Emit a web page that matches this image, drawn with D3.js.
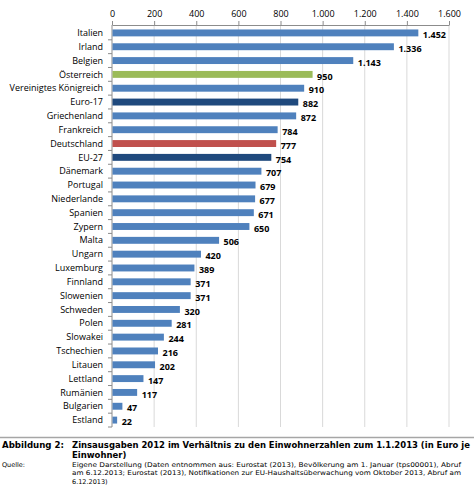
<!DOCTYPE html>
<html>
<head>
<meta charset="utf-8">
<script src="https://cdn.jsdelivr.net/npm/d3@7"></script>
<style>
  body { margin: 0; background: #fff; }
  svg { display: block; }
</style>
</head>
<body>
<div class="chart"></div>
<script>
// data
var countries = ["Italien", "Irland", "Belgien", "Österreich", "Vereinigtes Königreich", "Euro-17",
  "Griechenland", "Frankreich", "Deutschland", "EU-27", "Dänemark", "Portugal", "Niederlande",
  "Spanien", "Zypern", "Malta", "Ungarn", "Luxemburg", "Finnland", "Slowenien", "Schweden",
  "Polen", "Slowakei", "Tschechien", "Litauen", "Lettland", "Rumänien", "Bulgarien", "Estland"];
var values = [1452, 1336, 1143, 950, 910, 882, 872, 784, 777, 754, 707, 679, 677, 671, 650,
  506, 420, 389, 371, 371, 320, 281, 244, 216, 202, 147, 117, 47, 22];
var xTicks = [0, 200, 400, 600, 800, 1000, 1200, 1400, 1600];
var highlight = { "Österreich": "#9bbb59", "Deutschland": "#c0504d", "Euro-17": "#1f497d", "EU-27": "#1f497d" };

var W = 474, H = 488;
var de = d3.formatLocale({ decimal: ",", thousands: ".", grouping: [3], currency: ["", " €"] });
var fmt = de.format(",d");

var svg = d3.select(".chart").append("svg")
  .attr("width", W)
  .attr("height", H);

var x = d3.scaleLinear().domain([0, 1600]).range([112, 449]);
var y = d3.scaleBand().domain(countries).range([26, 427]).paddingInner(0.5).paddingOuter(0.25);

// gridlines
svg.append("g").selectAll("line")
  .data(xTicks.slice(1))
  .enter().append("line")
  .attr("x1", function(d){ return x(d); })
  .attr("x2", function(d){ return x(d); })
  .attr("y1", 25)
  .attr("y2", 427)
  .attr("stroke", "#d9d9d9")
  .attr("stroke-width", 1);

// top axis
var xAxis = d3.axisTop(x)
  .tickValues(xTicks)
  .tickFormat(fmt)
  .tickSize(4)
  .tickSizeOuter(0);

var gx = svg.append("g")
  .attr("transform", "translate(0,25)")
  .call(xAxis);
gx.select(".domain").attr("stroke", "#8c8c8c");
gx.selectAll(".tick line").attr("stroke", "#8c8c8c");
gx.selectAll("text")
  .attr("font-family", "'Open Sans', sans-serif")
  .attr("font-size", 9)
  .attr("fill", "#000")
  .attr("y", -8);

// left axis with category ticks between bars
svg.append("line")
  .attr("x1", 112).attr("x2", 112)
  .attr("y1", 25).attr("y2", 427)
  .attr("stroke", "#8c8c8c");

var step = y.step();
svg.append("g").selectAll("line")
  .data(countries)
  .enter().append("line")
  .attr("x1", 108).attr("x2", 112)
  .attr("y1", function(d){ return y(d) + y.bandwidth() / 2 + step / 2; })
  .attr("y2", function(d){ return y(d) + y.bandwidth() / 2 + step / 2; })
  .attr("stroke", "#8c8c8c");

svg.append("g").selectAll("text")
  .data(countries)
  .enter().append("text")
  .attr("x", 103)
  .attr("y", function(d){ return y(d) + y.bandwidth() / 2; })
  .attr("dy", ".35em")
  .attr("text-anchor", "end")
  .attr("font-family", "'Open Sans', sans-serif")
  .attr("font-size", 9)
  .text(function(d){ return d; });

// bars
svg.append("g").selectAll("rect")
  .data(countries)
  .enter().append("rect")
  .attr("x", x(0) + 0.5)
  .attr("y", function(d){ return y(d); })
  .attr("width", function(d, i){ return x(values[i]) - x(0); })
  .attr("height", y.bandwidth())
  .attr("fill", function(d){ return highlight[d] || "#4f81bd"; });

svg.append("g").selectAll("text")
  .data(countries)
  .enter().append("text")
  .attr("x", function(d, i){ return x(values[i]) + 5; })
  .attr("y", function(d){ return y(d) + y.bandwidth() / 2 + 2; })
  .attr("dy", ".35em")
  .attr("font-family", "'Open Sans', sans-serif")
  .attr("font-size", 9)
  .attr("font-weight", "bold")
  .text(function(d, i){ return fmt(values[i]); });

// footer
svg.append("line")
  .attr("x1", 0).attr("x2", W)
  .attr("y1", 437.5).attr("y2", 437.5)
  .attr("stroke", "#a6a6a6")
  .attr("stroke-width", 1.5);

var foot = svg.append("g")
  .attr("font-family", "'DejaVu Sans', Verdana, sans-serif");

foot.append("text")
  .attr("x", 2).attr("y", 448)
  .attr("font-size", 8.5).attr("font-weight", "bold")
  .attr("textLength", 62).attr("lengthAdjust", "spacingAndGlyphs")
  .text("Abbildung 2:");
foot.append("text")
  .attr("x", 72).attr("y", 448)
  .attr("font-size", 8.5).attr("font-weight", "bold")
  .attr("textLength", 398).attr("lengthAdjust", "spacingAndGlyphs")
  .text("Zinsausgaben 2012 im Verhältnis zu den Einwohnerzahlen zum 1.1.2013 (in Euro je");
foot.append("text")
  .attr("x", 72).attr("y", 458)
  .attr("font-size", 8.5).attr("font-weight", "bold")
  .text("Einwohner)");

foot.append("text")
  .attr("x", 2).attr("y", 467)
  .attr("font-size", 6.5)
  .text("Quelle:");

var src = ["Eigene Darstellung (Daten entnommen aus: Eurostat (2013), Bevölkerung am 1. Januar (tps00001), Abruf",
  "am 6.12.2013;  Eurostat (2013), Notifikationen zur EU-Haushaltsüberwachung vom Oktober 2013, Abruf am",
  "6.12.2013)"];
var srcLen = [389, 389, 0];
foot.selectAll(".src")
  .data(src)
  .enter().append("text")
  .attr("class", "src")
  .attr("x", 72)
  .attr("y", function(d, i){ return 467 + i * 8.3; })
  .attr("font-size", 6.5)
  .each(function(d, i){
    if (srcLen[i]) d3.select(this).attr("textLength", srcLen[i]).attr("lengthAdjust", "spacingAndGlyphs");
  })
  .text(function(d){ return d; });
</script>
</body>
</html>
